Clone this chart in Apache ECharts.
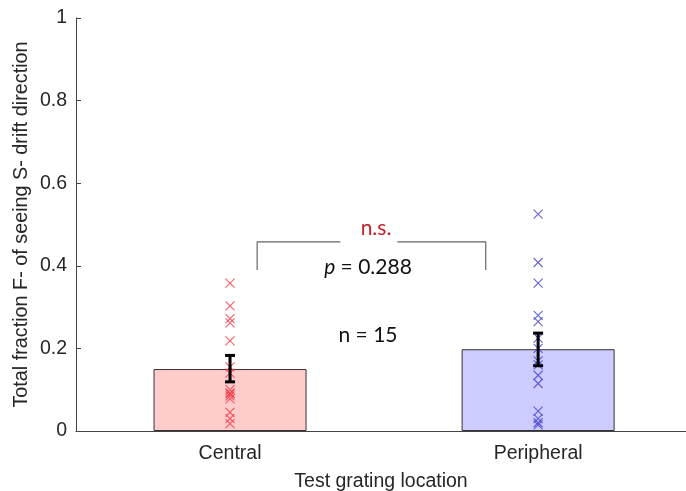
<!DOCTYPE html>
<html>
<head>
<meta charset="utf-8">
<script src="https://cdn.jsdelivr.net/npm/echarts@6/dist/echarts.min.js"></script>
<style>html,body{margin:0;padding:0;background:#fff}#c{width:686px;height:491px}</style>
</head>
<body>
<div id="c"></div>
<script>
const categories = ['Central', 'Peripheral'];
const meanValues = [0.150, 0.198];
const errLow = [0.119, 0.158];
const errHigh = [0.183, 0.237];
const centralPoints = [0.358, 0.303, 0.272, 0.262, 0.218, 0.155, 0.140, 0.100, 0.092, 0.090, 0.085, 0.078, 0.045, 0.030, 0.018];
const peripheralPoints = [0.525, 0.408, 0.358, 0.280, 0.265, 0.225, 0.200, 0.170, 0.160, 0.135, 0.115, 0.048, 0.030, 0.020, 0.015];
const yTicks = [0, 0.2, 0.4, 0.6, 0.8, 1];
const barFill = ['#ffcccc', '#ccccff'];
const pointColors = ['#f0404a', '#4a4ad0'];
const pValue = 'p = 0.288';
const sigLabel = 'n.s.';
const nLabel = 'n = 15';
// bracket in data coordinates
const bracketLeft = [[1.088, 0.390], [1.088, 0.458], [1.358, 0.458]];
const bracketRight = [[1.543, 0.458], [1.830, 0.458], [1.830, 0.390]];

const chart = echarts.init(document.getElementById('c'), null, {renderer: 'canvas'});
const crossPath = 'path://M0,0L10,10M10,0L0,10';
const axisFont = 'Liberation Sans, Arial, sans-serif';
const annFont = '21px Lato, "Open Sans", sans-serif';

const option = {
  animation: false,
  grid: {left: 76, right: 0, top: 18, bottom: 60, containLabel: false, outerBoundsMode: 'none'},
  xAxis: {
    type: 'value', min: 0.5, max: 2.48,
    axisLine: {lineStyle: {color: '#444', width: 1}},
    axisTick: {show: true, inside: true, length: 5, customValues: [1, 2], lineStyle: {color: '#444'}},
    axisLabel: {customValues: [1, 2], formatter: v => categories[Math.round(v) - 1] || '', fontSize: 19.5, color: '#262626', fontFamily: axisFont, margin: 13},
    splitLine: {show: false},
    name: 'Test grating location', nameLocation: 'middle', nameGap: 41, nameMoveOverlap: false,
    nameTextStyle: {fontSize: 19.5, color: '#262626', fontFamily: axisFont}
  },
  yAxis: {
    type: 'value', min: 0, max: 1, interval: 0.2,
    axisLine: {show: true, lineStyle: {color: '#444', width: 1}},
    axisTick: {show: true, inside: true, length: 5, lineStyle: {color: '#444'}},
    axisLabel: {formatter: v => String(+v.toFixed(1)), fontSize: 19.5, color: '#262626', fontFamily: axisFont, margin: 9},
    splitLine: {show: false},
    name: 'Total fraction F- of seeing S- drift direction', nameLocation: 'middle', nameGap: 44, nameMoveOverlap: false,
    nameTextStyle: {fontSize: 19.8, color: '#262626', fontFamily: axisFont}
  },
  series: [
    {
      type: 'bar', barWidth: 153, silent: true,
      data: meanValues.map((v, i) => ({value: [i + 1, v], itemStyle: {color: barFill[i], borderColor: '#333', borderWidth: 1}})),
      z: 1
    },
    {
      type: 'scatter', symbol: crossPath, symbolSize: 9, silent: true,
      itemStyle: {color: 'rgba(0,0,0,0)', borderColor: pointColors[0], borderWidth: 1.1, opacity: 0.85},
      data: centralPoints.map(v => [1, v]), z: 3
    },
    {
      type: 'scatter', symbol: crossPath, symbolSize: 9, silent: true,
      itemStyle: {color: 'rgba(0,0,0,0)', borderColor: pointColors[1], borderWidth: 1.1, opacity: 0.85},
      data: peripheralPoints.map(v => [2, v]), z: 3
    },
    {
      type: 'custom', silent: true, z: 4,
      data: meanValues.map((v, i) => [i + 1, errLow[i], errHigh[i]]),
      renderItem: (params, api) => {
        const lo = api.coord([api.value(0), api.value(1)]);
        const hi = api.coord([api.value(0), api.value(2)]);
        const w = 5;
        const style = {stroke: '#000', lineWidth: 3};
        return {type: 'group', children: [
          {type: 'line', shape: {x1: lo[0], y1: lo[1], x2: hi[0], y2: hi[1]}, style},
          {type: 'line', shape: {x1: lo[0] - w, y1: lo[1], x2: lo[0] + w, y2: lo[1]}, style},
          {type: 'line', shape: {x1: hi[0] - w, y1: hi[1], x2: hi[0] + w, y2: hi[1]}, style}
        ]};
      }
    },
    {type: 'line', data: bracketLeft, symbol: 'none', silent: true, lineStyle: {color: '#666', width: 1.2}, z: 2},
    {type: 'line', data: bracketRight, symbol: 'none', silent: true, lineStyle: {color: '#666', width: 1.2}, z: 2}
  ],
  graphic: [
    {type: 'text', x: 376, y: 228, style: {text: sigLabel, fill: '#c0202a', font: annFont, textAlign: 'center', textVerticalAlign: 'middle'}},
    {type: 'text', x: 368, y: 267, style: {
      text: '{i|p}' + pValue.slice(1), fill: '#111', font: annFont, textAlign: 'center', textVerticalAlign: 'middle',
      rich: {i: {fontStyle: 'italic', fontSize: 21, fontFamily: 'Lato, "Open Sans", sans-serif', fill: '#111'}}
    }},
    {type: 'text', x: 368, y: 335, style: {text: nLabel, fill: '#111', font: annFont, textAlign: 'center', textVerticalAlign: 'middle'}}
  ]
};
chart.setOption(option);
</script>
</body>
</html>
